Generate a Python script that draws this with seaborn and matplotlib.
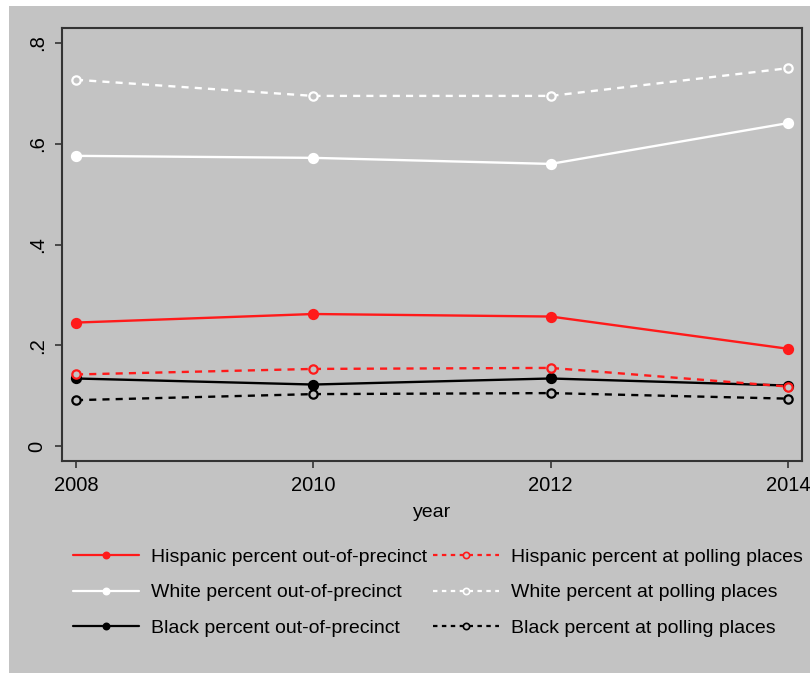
import matplotlib
matplotlib.use("Agg")
import matplotlib.pyplot as plt
import seaborn as sns
import pandas as pd
from matplotlib.patches import Rectangle
from matplotlib.lines import Line2D

years = [2008, 2010, 2012, 2014]
hispanic_out = [0.245, 0.262, 0.257, 0.193]
white_out = [0.576, 0.572, 0.560, 0.641]
black_out = [0.134, 0.122, 0.134, 0.120]
hispanic_poll = [0.142, 0.153, 0.155, 0.118]
white_poll = [0.727, 0.695, 0.695, 0.750]
black_poll = [0.091, 0.103, 0.105, 0.094]

series_labels = [
    "Hispanic percent out-of-precinct",
    "White percent out-of-precinct",
    "Black percent out-of-precinct",
    "Hispanic percent at polling places",
    "White percent at polling places",
    "Black percent at polling places",
]
series_values = [hispanic_out, white_out, black_out, hispanic_poll, white_poll, black_poll]
series_colors = ["#ff1a1a", "#ffffff", "#000000", "#ff1a1a", "#ffffff", "#000000"]
series_dashed = [False, False, False, True, True, True]

y_ticks = [0, 0.2, 0.4, 0.6, 0.8]
y_ticklabels = ["0", ".2", ".4", ".6", ".8"]

BG = "#c3c3c3"

sns.set_theme(style="ticks")
plt.rcParams["font.family"] = ["Liberation Sans", "DejaVu Sans"]
plt.rcParams["text.color"] = "black"
plt.rcParams["xtick.color"] = "black"
plt.rcParams["ytick.color"] = "black"
plt.rcParams["axes.labelcolor"] = "black"

fig = plt.figure(figsize=(8.1, 6.73), dpi=100)
fig.patch.set_facecolor("white")
fig.patches.append(Rectangle((9 / 810, 0), 1 - 9 / 810, 1 - 6 / 673,
                             transform=fig.transFigure, facecolor=BG,
                             edgecolor="none", zorder=-10))

ax = fig.add_axes([62 / 810, 1 - 461 / 673, 740 / 810, 433 / 673])
ax.set_facecolor(BG)

rows = []
for lab, vals in zip(series_labels, series_values):
    for yr, v in zip(years, vals):
        rows.append({"year": yr, "value": v, "series": lab})
df = pd.DataFrame(rows)

handles = []
for lab, col, dashed in zip(series_labels, series_colors, series_dashed):
    sub = df[df["series"] == lab]
    ls = (0, (3, 2.6)) if dashed else "-"
    mfc = BG if dashed else col
    sns.lineplot(data=sub, x="year", y="value", ax=ax, color=col,
                 linewidth=1.7, linestyle=ls, marker="o", markersize=6.5 if not dashed else 6,
                 markerfacecolor=mfc, markeredgecolor=col, markeredgewidth=1.6,
                 legend=False)
    handles.append(Line2D([0], [0], color=col, linewidth=1.6, linestyle=(0, (2, 2)) if dashed else "-",
                          marker="o", markersize=4.5, markerfacecolor=mfc,
                          markeredgecolor=col, markeredgewidth=1.2))

ax.set_xlim(2008 - 14 / 118.7, 2014 + 14 / 118.7)
ax.set_ylim(-0.0298, 0.8298)
ax.set_xticks(years)
ax.set_xticklabels([str(y) for y in years], fontsize=14.5)
ax.set_yticks(y_ticks)
ax.set_yticklabels(y_ticklabels, fontsize=14.5, rotation=90, va="center")
ax.tick_params(axis="both", direction="out", length=5, width=1.2, color="#333333", pad=6)
ax.set_xlabel("year", fontsize=14, labelpad=6)
ax.set_ylabel("")
for s in ax.spines.values():
    s.set_visible(True)
    s.set_color("#333333")
    s.set_linewidth(1.5)

fig.legend(handles=handles, labels=series_labels, ncol=2, loc="upper left",
           bbox_to_anchor=(73 / 810, 1 - 548 / 673), frameon=False,
           fontsize=14, handlelength=3.4, handletextpad=0.6, columnspacing=0.3,
           labelspacing=0.93, borderpad=0, borderaxespad=0)

fig.savefig("out.png", dpi=100, facecolor=fig.get_facecolor())
